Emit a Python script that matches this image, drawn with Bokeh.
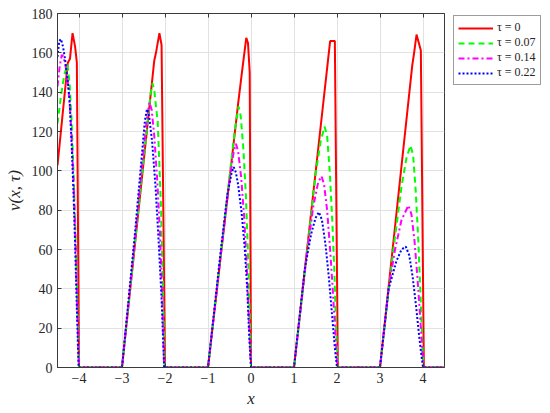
from bokeh.plotting import figure
from bokeh.models import Range1d, FixedTicker, LinearAxis, Legend, LegendItem
from bokeh.embed import file_html
from bokeh.resources import INLINE

# ---------------- data ----------------
x_ticks = [-4, -3, -2, -1, 0, 1, 2, 3, 4]
y_ticks = [0, 20, 40, 60, 80, 100, 120, 140, 160, 180]
x_tick_labels = {-4: "\u22124", -3: "\u22123", -2: "\u22122", -1: "\u22121",
                 0: "0", 1: "1", 2: "2", 3: "3", 4: "4"}

labels = ["\u03c4 = 0", "\u03c4 = 0.07", "\u03c4 = 0.14", "\u03c4 = 0.22"]

# tau = 0
x_tau0 = [-4.5, -4.38, -4.26, -4.21, -4.15, -4.09, -4.05, -4.0,
          -3.0, -2.62, -2.25, -2.21, -2.13, -2.08, -2.0,
          -1.0, -0.55, -0.3, -0.2, -0.11, -0.07, -0.03, 0.0,
          1.0, 1.84, 1.95, 2.02,
          3.0, 3.75, 3.79, 3.85, 3.95, 4.02, 4.5]
v_tau0 = [102.7, 129, 155, 157, 170, 163, 155, 0,
          0, 79, 156, 160, 170, 164, 0,
          0, 86, 134, 152, 167.6, 165, 150, 0,
          0, 166, 166, 0,
          0, 153.6, 159.5, 169.3, 161.2, 0, 0]

# tau = 0.07
x_tau1 = [-4.5, -4.42, -4.34, -4.27, -4.22, -4.17, -4.12, -4.07, -4.03, -4.0,
          -3.0, -2.7, -2.5, -2.38, -2.33, -2.29, -2.25, -2.17, -2.13, -2.09, -2.05, -2.01,
          -1.0, -0.7, -0.5, -0.38, -0.29, -0.24, -0.18, -0.12, -0.07, -0.03, 0.0,
          1.0, 1.3, 1.5, 1.62, 1.71, 1.77, 1.83, 1.89, 1.94, 1.98, 2.02,
          3.0, 3.3, 3.5, 3.62, 3.71, 3.77, 3.83, 3.89, 3.94, 3.98, 4.01, 4.5]
v_tau1 = [124, 138, 149, 154, 145, 125, 95, 60, 25, 0,
          0, 63, 105, 130, 140, 144.5, 141, 125, 103, 79, 43, 0,
          0, 58, 97, 120, 132.7, 128, 112, 88, 58, 28, 0,
          0, 58, 98, 115, 122.5, 118, 100, 75, 48, 20, 0,
          0, 58, 92, 107, 112.9, 108, 90, 65, 38, 15, 0, 0]

# tau = 0.14
x_tau2 = [-4.5, -4.45, -4.4, -4.36, -4.31, -4.26, -4.21, -4.16, -4.12, -4.08, -4.04, -4.0,
          -3.0, -2.7, -2.5, -2.42, -2.36, -2.31, -2.25, -2.18, -2.12, -2.07, -2.02,
          -1.0, -0.7, -0.5, -0.4, -0.35, -0.3, -0.23, -0.16, -0.1, -0.05, 0.0,
          1.0, 1.3, 1.45, 1.56, 1.64, 1.7, 1.77, 1.84, 1.9, 1.96, 2.01,
          3.0, 3.2, 3.35, 3.5, 3.66, 3.73, 3.8, 3.87, 3.93, 3.98, 4.01, 4.5]
v_tau2 = [143, 153, 159, 158, 153, 145, 132, 112, 90, 62, 30, 0,
          0, 65, 110, 127, 134.8, 131, 118, 95, 70, 40, 0,
          0, 58, 95, 110, 113.7, 110, 97, 77, 52, 25, 0,
          0, 58, 82, 94, 97.3, 93, 80, 60, 40, 18, 0,
          0, 40, 60, 75, 82.4, 78, 65, 46, 27, 10, 0, 0]

# tau = 0.22
x_tau3 = [-4.5, -4.46, -4.42, -4.37, -4.32, -4.27, -4.22, -4.17, -4.13, -4.09, -4.05, -4.01,
          -3.0, -2.7, -2.55, -2.47, -2.42, -2.37, -2.3, -2.22, -2.15, -2.08, -2.02,
          -1.0, -0.7, -0.55, -0.45, -0.4, -0.35, -0.3, -0.22, -0.15, -0.09, -0.04, 0.0,
          1.0, 1.25, 1.4, 1.5, 1.58, 1.65, 1.73, 1.81, 1.88, 1.95, 2.0,
          3.0, 3.2, 3.38, 3.5, 3.6, 3.68, 3.76, 3.84, 3.91, 3.97, 4.0, 4.5]
v_tau3 = [158, 166, 167, 163, 156, 147, 137, 113, 90, 62, 30, 0,
          0, 68, 105, 125, 131.4, 128, 115, 92, 65, 35, 0,
          0, 60, 88, 99, 101.9, 99, 93, 79, 62, 41, 15, 0,
          0, 50, 68, 76, 79, 75, 63, 46, 28, 10, 0,
          0, 40, 54, 60, 61.5, 57, 46, 31, 16, 5, 0, 0]

# ---------------- figure ----------------
FONT = '"Liberation Serif", "DejaVu Serif", serif'
AX = "#3a3a3a"

p = figure(frame_width=387, frame_height=354,
           min_border_left=57, min_border_right=106,
           min_border_top=13, min_border_bottom=46,
           x_range=Range1d(-4.5, 4.5), y_range=Range1d(0, 180),
           output_backend="svg", toolbar_location=None)

p.outline_line_color = AX
p.outline_line_width = 1

xa = p.xaxis[0]
ya = p.yaxis[0]
xa.ticker = FixedTicker(ticks=x_ticks)
ya.ticker = FixedTicker(ticks=y_ticks)
xa.major_label_overrides = x_tick_labels
for ax in (xa, ya):
    ax.major_tick_in = 4
    ax.major_tick_out = 0
    ax.minor_tick_in = 0
    ax.minor_tick_out = 0
    ax.axis_line_color = AX
    ax.major_tick_line_color = AX
    ax.major_label_text_font = FONT
    ax.major_label_text_font_size = "14px"
    ax.major_label_text_color = "#262626"
    ax.major_label_standoff = 5
    ax.axis_label_text_font = FONT
    ax.axis_label_text_font_size = "17px"
    ax.axis_label_text_font_style = "italic"
    ax.axis_label_text_color = "#262626"
    ax.axis_label_standoff = 3
xa.axis_label = "x"
ya.axis_label = "v(x, \u03c4)"
ya.axis_label_standoff = 5

p.xgrid.ticker = FixedTicker(ticks=x_ticks)
p.ygrid.ticker = FixedTicker(ticks=y_ticks)
p.grid.grid_line_color = "#e2e2e2"
p.grid.grid_line_width = 1

# mirrored inward ticks on the top edge (no labels)
top = LinearAxis(ticker=FixedTicker(ticks=x_ticks),
                 major_label_overrides={t: "" for t in x_ticks},
                 major_label_standoff=0,
                 major_tick_in=4, major_tick_out=0,
                 minor_tick_in=0, minor_tick_out=0,
                 axis_line_color=AX, major_tick_line_color=AX)
p.add_layout(top, "above")

r0 = p.line(x_tau0, v_tau0, line_color="#ff0000", line_width=2)
r1 = p.line(x_tau1, v_tau1, line_color="#00ff00", line_width=2, line_dash="6 4")
r2 = p.line(x_tau2, v_tau2, line_color="#ff00ff", line_width=2, line_dash="6 3 2 3")
r3 = p.line(x_tau3, v_tau3, line_color="#0000ff", line_width=2, line_dash="2 2")

legend = Legend(items=[LegendItem(label=labels[0], renderers=[r0]),
                       LegendItem(label=labels[1], renderers=[r1]),
                       LegendItem(label=labels[2], renderers=[r2]),
                       LegendItem(label=labels[3], renderers=[r3])],
                location=(9, 282), margin=0, padding=4, spacing=0,
                glyph_width=35, glyph_height=14, label_height=14,
                label_standoff=4,
                label_text_font=FONT, label_text_font_size="12px",
                label_text_color="#262626",
                border_line_color=AX, border_line_width=1,
                background_fill_color="white", background_fill_alpha=1)
p.add_layout(legend, "right")

open("out.html", "w").write(file_html(p, INLINE))
